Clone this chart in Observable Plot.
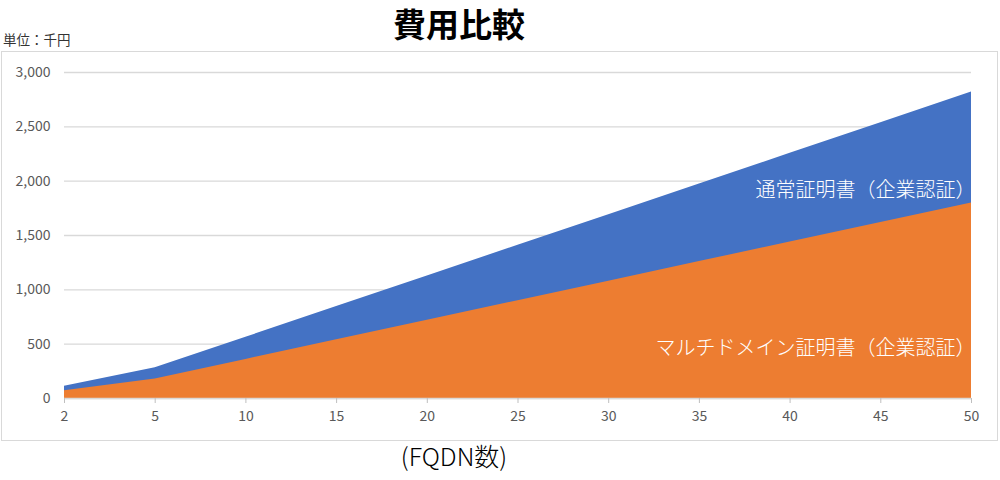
<!DOCTYPE html>
<html><head><meta charset="utf-8">
<script src="https://cdn.jsdelivr.net/npm/d3@7"></script>
<script src="https://cdn.jsdelivr.net/npm/@observablehq/plot@0.6"></script>
<style>
body{margin:0;background:#fff;font-family:"Noto Sans CJK JP","Noto Sans",sans-serif;}
#page{position:relative;width:1000px;height:480px;overflow:hidden;background:#fff;}
#title{position:absolute;left:0;width:918px;text-align:center;top:4px;font-size:33px;font-weight:bold;line-height:1.2;color:#000;}
#unit{position:absolute;left:3px;top:31px;font-size:13.5px;line-height:1.2;color:#333;}
#box{position:absolute;left:1px;top:51px;width:997px;height:390px;border:1.5px solid #d9d9d9;box-sizing:border-box;}
#chart{position:absolute;left:2px;top:52px;width:995px;}
#chart svg{background:transparent;}
#xlabel{position:absolute;left:0;width:908px;text-align:center;top:440px;font-size:25px;font-weight:300;line-height:1.2;color:#000;}
</style>
</head><body>
<div id="page">
  <div id="title"></div>
  <div id="unit"></div>
  <div id="box"></div>
  <div id="chart"></div>
  <div id="xlabel"></div>
</div>
<script>
const titleText = "費用比較";
const unitText = "単位：千円";
const xAxisLabel = "(FQDN数)";
const categories = ["2","5","10","15","20","25","30","35","40","45","50"];
const standardCost = [113, 282, 564, 846, 1128, 1410, 1692, 1974, 2256, 2538, 2820];
const multiCost = [72, 180, 360, 540, 720, 900, 1080, 1260, 1440, 1620, 1800];
const seriesNames = ["通常証明書（企業認証）", "マルチドメイン証明書（企業認証）"];
const seriesColors = ["#4472C4", "#ED7D31"];
const labelValues = [1914, 460];
const yTicks = [0, 500, 1000, 1500, 2000, 2500, 3000];

document.getElementById("title").textContent = titleText;
document.getElementById("unit").textContent = unitText;
document.getElementById("xlabel").textContent = xAxisLabel;

const standardData = categories.map((c, i) => ({x: c, y: standardCost[i]}));
const multiData = categories.map((c, i) => ({x: c, y: multiCost[i]}));
const labels = seriesNames.map((n, i) => ({x: categories[categories.length - 1], y: labelValues[i], text: n}));

const chart = Plot.plot({
  width: 995,
  height: 388,
  marginLeft: 62,
  marginRight: 26,
  marginTop: 20,
  marginBottom: 42,
  style: {fontFamily: '"Noto Sans CJK JP","Noto Sans",sans-serif', background: "transparent", overflow: "visible"},
  x: {type: "point", domain: categories, padding: 0, round: false, label: null},
  y: {domain: [0, 3000], label: null},
  marks: [
    Plot.gridY(yTicks, {stroke: "#d9d9d9", strokeOpacity: 1, strokeWidth: 1.3}),
    Plot.areaY(standardData, {x: "x", y: "y", fill: seriesColors[0], curve: "linear"}),
    Plot.areaY(multiData, {x: "x", y: "y", fill: seriesColors[1], curve: "linear"}),
    Plot.ruleY([0], {stroke: "#d9d9d9", strokeWidth: 1.3}),
    Plot.axisY(yTicks, {tickSize: 0, tickPadding: 14, tickFormat: d3.format(","), fontSize: 14, color: "#595959", label: null}),
    Plot.axisX({tickSize: 5, tickPadding: 8, fontSize: 14, color: "#595959", stroke: "#bfbfbf", label: null}),
    Plot.text(labels, {x: "x", y: "y", text: "text", textAnchor: "end", dx: 4, fill: "white", fontSize: 20, fontWeight: 300})
  ]
});
document.getElementById("chart").appendChild(chart);
</script>
</body></html>
